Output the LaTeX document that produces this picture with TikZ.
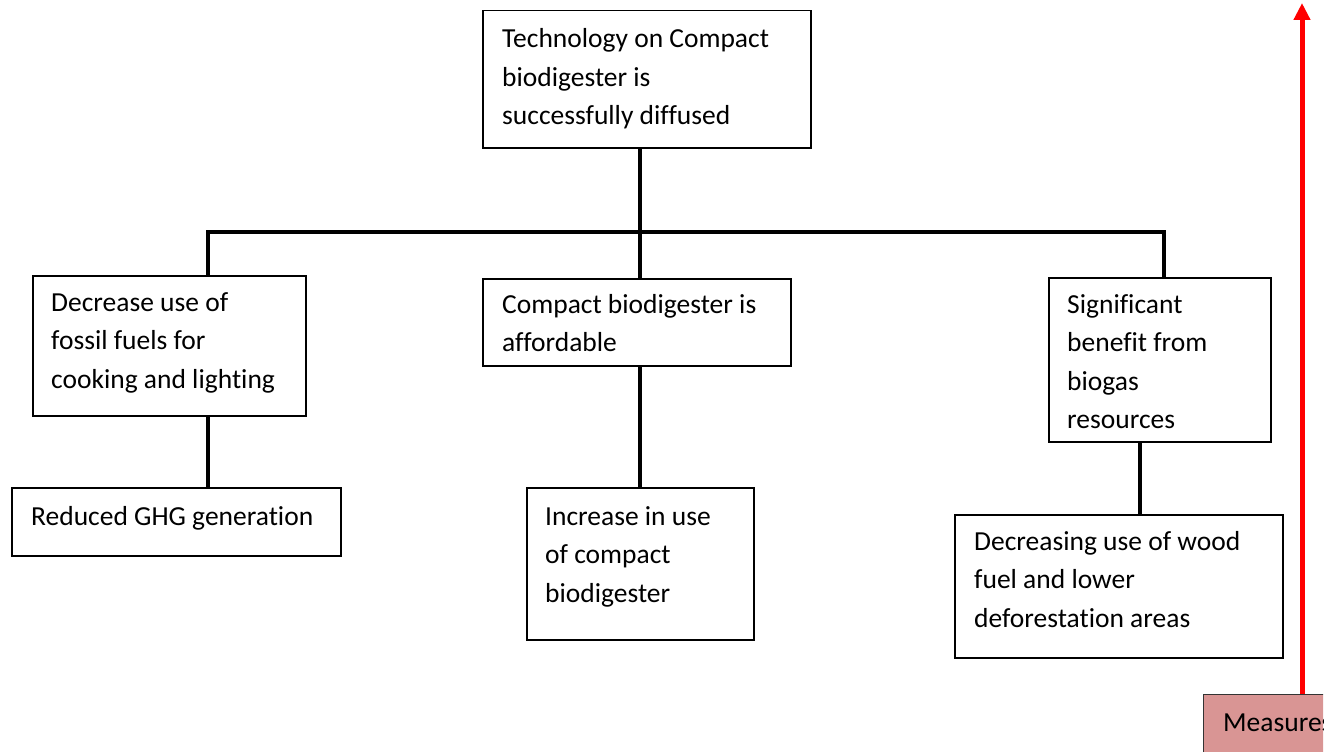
\documentclass[tikz,border=0pt]{standalone}
\usepackage{fontspec}
\setmainfont[Ligatures=NoCommon]{Carlito}
\usetikzlibrary{arrows.meta}
\begin{document}
\begin{tikzpicture}[x=1pt,y=-1pt,
  box/.style={draw=black, line width=1.5pt, anchor=north west, inner sep=0pt, fill=white},
  lbl/.style={anchor=base west, inner sep=0pt, font=\fontsize{27.5}{38.5}\selectfont},
  conn/.style={draw=black, line width=4pt},
  measurebox/.style={draw=black!80, line width=1.2pt, fill={rgb,255:red,217;green,149;blue,148}, anchor=north west, inner sep=0pt}]
\useasboundingbox (0,0) rectangle (1339,752);

% boxes
\node[box, minimum width=328pt, minimum height=137pt] (top) at (482,10) {};
\node[box, minimum width=273pt, minimum height=140pt] (left) at (32,275) {};
\node[box, minimum width=308pt, minimum height=87pt] (mid) at (482,278) {};
\node[box, minimum width=222pt, minimum height=164pt] (right) at (1048,277) {};
\node[box, minimum width=329pt, minimum height=68pt] (ghg) at (11,487) {};
\node[box, minimum width=227pt, minimum height=152pt] (inc) at (526,487) {};
\node[box, minimum width=328pt, minimum height=143pt] (wood) at (954,514) {};

% texts
\node[lbl] (topT) at (502,48) {\parbox[t]{300pt}{\raggedright Technology on Compact\\biodigester is\\successfully diffused}};
\node[lbl] (leftT) at (51,311) {\parbox[t]{260pt}{\raggedright Decrease use of\\fossil fuels for\\cooking and lighting}};
\node[lbl] (midT) at (502,313) {\parbox[t]{290pt}{\raggedright Compact biodigester is\\affordable}};
\node[lbl] (rightT) at (1067,313) {\parbox[t]{200pt}{\raggedright Significant\\benefit from\\biogas\\resources}};
\node[lbl] (ghgT) at (31,525) {\parbox[t]{310pt}{\raggedright Reduced GHG generation}};
\node[lbl] (incT) at (545,525) {\parbox[t]{200pt}{\raggedright Increase in use\\of compact\\biodigester}};
\node[lbl] (woodT) at (974,550) {\parbox[t]{310pt}{\raggedright Decreasing use of wood\\fuel and lower\\deforestation areas}};

% measure box, cut off at the right edge
\begin{scope}
\clip (0,0) rectangle (1323,752);
\node[measurebox, minimum width=200pt, minimum height=80pt] (meas) at (1203,694) {};
\node[lbl] (measT) at (1223,731) {Measures};
\end{scope}

% bus and junctions
\coordinate (jL) at (208,232);
\coordinate (jM) at (640,232);
\coordinate (jR) at (1164,232);
\coordinate (arrowTip) at (1302,3);

% connectors
\draw[conn] (top.south -| jM) -- (mid.north -| jM);
\draw[conn, line cap=rect] (jL) -- (jR);
\draw[conn] (jL) -- (left.north -| jL);
\draw[conn] (jR) -- (right.north -| jR);
\draw[conn] (left.south -| jL) -- (ghg.north -| jL);
\draw[conn] (mid.south -| jM) -- (inc.north -| jM);
\draw[conn] (right.south -| 1140,0) -- (wood.north -| 1140,0);

% red arrow from the measure box
\draw[red, line width=5pt, -{Triangle[width=16pt,length=17pt]}] (meas.north -| arrowTip) -- (arrowTip);
\end{tikzpicture}
\end{document}
